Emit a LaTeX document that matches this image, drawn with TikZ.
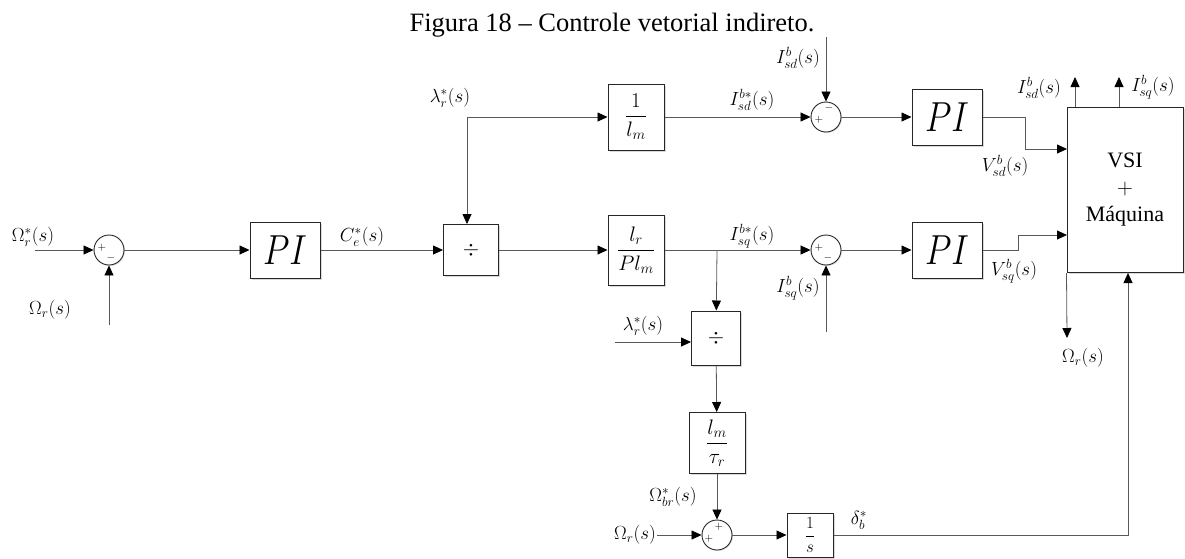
\RequirePackage{fix-cm}
\documentclass[tikz,border=0pt]{standalone}
\usepackage{amsmath}
\usepackage{fontspec}
\setmainfont{Liberation Serif}
\usetikzlibrary{arrows.meta,shadows}

\newcommand{\piop}{\scalebox{0.82}[1]{$PI$}}

\tikzset{
  blk/.style={draw=black!85,fill=white,line width=1pt,inner sep=0pt,
    drop shadow={shadow xshift=1.5pt,shadow yshift=-1.5pt,opacity=0.3}},
  piblk/.style={blk,font=\fontsize{42}{46}\selectfont},
  fblk/.style={blk,font=\fontsize{21}{24}\selectfont},
  sumc/.style={circle,draw=black!85,fill=white,line width=0.9pt,minimum size=30pt,inner sep=0pt,
    drop shadow={shadow xshift=1pt,shadow yshift=-1pt,opacity=0.25}},
  sgn/.style={font=\fontsize{11}{11}\selectfont,inner sep=0pt},
  sig/.style={draw=black!65,line width=0.8pt,-{Triangle[length=10pt,width=9pt,black]}},
  lbl/.style={font=\fontsize{19}{22}\selectfont,inner sep=1pt},
}

\begin{document}
\begin{tikzpicture}[x=1pt,y=-1pt]
\useasboundingbox (0,0) rectangle (1185,558);

\node[font=\fontsize{26.5}{30}\selectfont,anchor=base] (cap) at (612,31) {Figura 18 -- Controle vetorial indireto.};

% blocos
\node[piblk,minimum width=70pt,minimum height=56pt] (pia) at (285,250) {\piop};
\node[fblk,minimum width=55pt,minimum height=51pt] (dv1) at (471,250) {$\div$};
\node[fblk,minimum width=56pt,minimum height=66pt] (glm) at (636,117) {$\dfrac{1}{l_m}$};
\node[fblk,minimum width=56pt,minimum height=70pt] (glr) at (636,250) {$\dfrac{l_r}{Pl_m}$};
\node[piblk,minimum width=70pt,minimum height=56pt] (pid) at (947,117) {\piop};
\node[piblk,minimum width=70pt,minimum height=56pt] (piq) at (947,250) {\piop};
\node[fblk,minimum width=49pt,minimum height=54pt] (dv2) at (716,338) {$\div$};
\node[fblk,minimum width=56pt,minimum height=61pt] (glt) at (717,443) {$\dfrac{l_m}{\tau_r}$};
\node[blk,font=\fontsize{17}{20}\selectfont,minimum width=46pt,minimum height=44pt] (ints) at (810,535) {$\dfrac{1}{s}$};
\node[blk,minimum width=116pt,minimum height=165pt,align=center,
  font=\fontsize{22}{27}\selectfont] (vsi) at (1125,190) {VSI\\$+$\\Máquina};

% somadores
\node[sumc] (s1) at (109,250) {};
\node[sgn] (s1p) at (102,248) {$+$};
\node[sgn] (s1m) at (111,258) {$-$};
\node[sumc] (sd) at (826,117) {};
\node[sgn] (sdp) at (819,120) {$+$};
\node[sgn] (sdm) at (829,108) {$-$};
\node[sumc] (sq) at (826,250) {};
\node[sgn] (sqp) at (819,248) {$+$};
\node[sgn] (sqm) at (828,258) {$-$};
\node[sumc] (s3) at (717,535) {};
\node[sgn] (s3p) at (709,539) {$+$};
\node[sgn] (s3q) at (719,527) {$+$};

% sinais
\coordinate (win) at (35,250);
\coordinate (wfb) at (109,325);
\coordinate (jl) at (467,117);
\coordinate (jb) at (717,250);
\coordinate (tdin) at (826,37);
\coordinate (tqin) at (826,332);
\coordinate (vd) at (1067,149);
\coordinate (vq) at (1067,235);
\coordinate (od) at (1075,77);
\coordinate (oq) at (1119,77);
\coordinate (ow) at (1067,338);
\coordinate (ce) at (1128,535);
\coordinate (wr) at (657,535);
\coordinate (lw) at (615,342);

\draw[sig] (win) -- (s1);
\draw[sig] (wfb) -- (s1);
\draw[sig] (s1) -- (pia);
\draw[sig] (pia) -- (dv1);
\draw[sig] (jl) -- (glm);
\draw[sig] (jl) -- (jl|-dv1.north);
\draw[sig] (dv1) -- (glr);
\draw[sig] (glm) -- (sd);
\draw[sig] (glr) -- (sq);
\draw[sig] (jb) -- (dv2);
\draw[sig] (lw) -- (lw-|dv2.west);
\draw[sig] (dv2) -- (glt);
\draw[sig] (glt) -- (s3);
\draw[sig] (wr) -- (s3);
\draw[sig] (s3) -- (ints);
\draw[sig] (tdin) -- (sd);
\draw[sig] (tqin) -- (sq);
\draw[sig] (sd) -- (pid);
\draw[sig] (sq) -- (piq);
\draw[sig] (pid.east) -- ++(43,0) |- (vd);
\draw[sig] (piq.east) -- ++(36,0) |- (vq);
\draw[sig] (od|-vsi.north) -- (od);
\draw[sig] (oq|-vsi.north) -- (oq);
\draw[sig] (vsi.south west) -- (ow);
\draw[sig] (ints) -- (ce) -- (ce|-vsi.south);

% rotulos
\node[lbl] (l1) at (33,237) {$\Omega_r^*(s)$};
\node[lbl] (l2) at (50,310) {$\Omega_r(s)$};
\node[lbl] (l3) at (362,237) {$C_e^*(s)$};
\node[lbl] (l4) at (450,98) {$\lambda_r^*(s)$};
\node[lbl] (l5) at (752,100) {$I_{sd}^{b*}(s)$};
\node[lbl] (l6) at (752,236) {$I_{sq}^{b*}(s)$};
\node[lbl] (l7) at (798,58) {$I_{sd}^{b}(s)$};
\node[lbl] (l8) at (798,288) {$I_{sq}^{b}(s)$};
\node[lbl] (l9) at (1005,166) {$V_{sd}^{b}(s)$};
\node[lbl] (l10) at (1014,271) {$V_{sq}^{b}(s)$};
\node[lbl] (l11) at (1039,88) {$I_{sd}^{b}(s)$};
\node[lbl] (l12) at (1153,87) {$I_{sq}^{b}(s)$};
\node[lbl] (l13) at (1083,358) {$\Omega_r(s)$};
\node[lbl] (l14) at (643,326) {$\lambda_r^*(s)$};
\node[lbl] (l15) at (673,497) {$\Omega_{br}^*(s)$};
\node[lbl,anchor=east] (l16) at (wr) {$\Omega_r(s)$};
\node[lbl] (l17) at (859,520) {$\delta_b^*$};
\end{tikzpicture}
\end{document}
